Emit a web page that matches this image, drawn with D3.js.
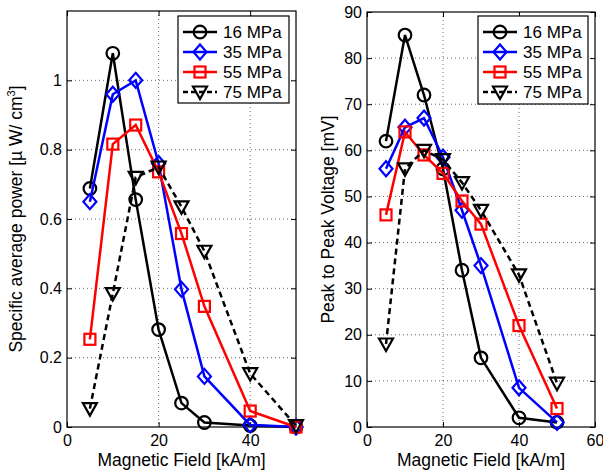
<!DOCTYPE html>
<html><head><meta charset="utf-8">
<script src="https://cdn.jsdelivr.net/npm/d3@7"></script>
<style>
body{margin:0;background:#fff;}
svg{font-family:"Liberation Sans",Arial,sans-serif;}
</style></head>
<body><svg id="c" width="603" height="473"></svg>
<script>
const fields = [5, 10, 15, 20, 25, 30, 40, 50];
const seriesNames = ["16 MPa", "35 MPa", "55 MPa", "75 MPa"];
const power16 = [0.688, 1.078, 0.656, 0.281, 0.069, 0.013, 0.004, 0.0];
const power35 = [0.65, 0.96, 1.0, 0.76, 0.397, 0.146, 0.006, 0.0];
const power55 = [0.253, 0.816, 0.871, 0.736, 0.558, 0.348, 0.046, 0.0];
const power75 = [0.053, 0.385, 0.72, 0.75, 0.635, 0.507, 0.154, 0.004];
const volt16 = [62, 85, 72, 56, 34, 15, 2, 1];
const volt35 = [56, 65, 67, 58.5, 47, 35, 8.5, 1];
const volt55 = [46, 64, 59, 55, 49, 44, 22, 4];
const volt75 = [18, 56, 60, 58, 53, 47, 33, 9.5];
const leftYTicks = [0, 0.2, 0.4, 0.6, 0.8, 1];
const leftXTicks = [0, 20, 40];
const rightYTicks = [0, 10, 20, 30, 40, 50, 60, 70, 80, 90];
const rightXTicks = [0, 20, 40, 60];

const styles = [
  {color:"#000", marker:"circle", dash:null},
  {color:"#0000ff", marker:"diamond", dash:null},
  {color:"#ff0000", marker:"square", dash:null},
  {color:"#000", marker:"tri", dash:"6,4"}
];

const svg = d3.select("#c");

function marker(g, type, x, y, color){
  if(type==="circle"){
    g.append("circle").attr("cx",x).attr("cy",y).attr("r",6.3)
      .attr("fill","none").attr("stroke",color).attr("stroke-width",2.2);
  } else if(type==="diamond"){
    g.append("path").attr("d",`M${x},${y-7.5}L${x+6.5},${y}L${x},${y+7.5}L${x-6.5},${y}Z`)
      .attr("fill","none").attr("stroke",color).attr("stroke-width",2.2);
  } else if(type==="square"){
    g.append("rect").attr("x",x-5.5).attr("y",y-5.5).attr("width",11).attr("height",11)
      .attr("fill","none").attr("stroke",color).attr("stroke-width",2.2);
  } else {
    g.append("path").attr("d",`M${x-7},${y-5.5}L${x+7},${y-5.5}L${x},${y+7}Z`)
      .attr("fill","none").attr("stroke",color).attr("stroke-width",2.2).attr("stroke-linejoin","miter");
  }
}

function panel(opts){
  const {x0,x1,y0,y1,xDom,yDom,xTicks,yTicks,yFmt,data,ylabel,legend} = opts;
  const x = d3.scaleLinear().domain(xDom).range([x0,x1]);
  const y = d3.scaleLinear().domain(yDom).range([y1,y0]);
  const g = svg.append("g");
  // grid
  xTicks.forEach(t=>{ if(t>xDom[0] && t<xDom[1]) g.append("line").attr("x1",x(t)).attr("x2",x(t)).attr("y1",y0).attr("y2",y1)
    .attr("stroke","#444").attr("stroke-width",0.8).attr("stroke-dasharray","1,3");});
  yTicks.forEach(t=>{ if(t>yDom[0] && t<yDom[1]) g.append("line").attr("x1",x0).attr("x2",x1).attr("y1",y(t)).attr("y2",y(t))
    .attr("stroke","#444").attr("stroke-width",0.8).attr("stroke-dasharray","1,3");});
  // axes
  const ax = g.append("g").attr("transform",`translate(0,${y1})`).call(d3.axisBottom(x).tickValues(xTicks).tickSizeInner(-5).tickSizeOuter(0).tickPadding(8));
  const axT = g.append("g").attr("transform",`translate(0,${y0})`).call(d3.axisTop(x).tickValues(xTicks).tickSizeInner(-5).tickSizeOuter(0).tickFormat(""));
  const ay = g.append("g").attr("transform",`translate(${x0},0)`).call(d3.axisLeft(y).tickValues(yTicks).tickFormat(yFmt).tickSizeInner(-5).tickSizeOuter(0).tickPadding(5));
  const ayR = g.append("g").attr("transform",`translate(${x1},0)`).call(d3.axisRight(y).tickValues(yTicks).tickSizeInner(-5).tickSizeOuter(0).tickFormat(""));
  [ax,axT,ay,ayR].forEach(a=>{a.select(".domain").remove(); a.selectAll("line").attr("stroke","#000").attr("stroke-width",1);
    a.selectAll("text").attr("font-size",16).attr("fill","#000").attr("font-family","Liberation Sans, Arial, sans-serif");});
  g.append("rect").attr("x",x0).attr("y",y0).attr("width",x1-x0).attr("height",y1-y0)
    .attr("fill","none").attr("stroke","#000").attr("stroke-width",1.2);
  // data
  data.forEach((vals,i)=>{
    const st = styles[i];
    const line = d3.line().x((d,j)=>x(fields[j])).y(d=>y(d));
    g.append("path").attr("d",line(vals)).attr("fill","none").attr("stroke",st.color)
      .attr("stroke-width",2.5).attr("stroke-dasharray",st.dash);
    vals.forEach((v,j)=>marker(g,st.marker,x(fields[j]),y(v),st.color));
  });
  // labels
  g.append("text").attr("x",(x0+x1)/2).attr("y",466).attr("text-anchor","middle").attr("font-size",17.5).text("Magnetic Field [kA/m]");
  const yl = g.append("text").attr("transform",`translate(${opts.ylx},${(y0+y1)/2}) rotate(-90)`).attr("text-anchor","middle").attr("font-size",17.5);
  ylabel(yl);
  // legend
  const lg = g.append("g");
  lg.append("rect").attr("x",legend.x).attr("y",legend.y).attr("width",legend.w).attr("height",legend.h)
    .attr("fill","#fff").attr("stroke","#000").attr("stroke-width",1.2);
  seriesNames.forEach((n,i)=>{
    const cy = legend.y + 16 + i*20;
    const st = styles[i];
    lg.append("line").attr("x1",legend.x+5).attr("x2",legend.x+39).attr("y1",cy).attr("y2",cy)
      .attr("stroke",st.color).attr("stroke-width",2.5).attr("stroke-dasharray",st.dash ? "5,3" : null);
    marker(lg,st.marker,legend.x+22,cy,st.color);
    lg.append("text").attr("x",legend.x+45).attr("y",cy+6).attr("font-size",17).text(n);
  });
}

panel({x0:67,x1:296,y0:11,y1:427,xDom:[0,50],yDom:[0,1.2],xTicks:leftXTicks,yTicks:leftYTicks,
  yFmt:d=>d===0||d===1?String(d):d3.format(".1f")(d),
  data:[power16,power35,power55,power75], ylx:22,
  ylabel:t=>{t.append("tspan").text("Specific average power [\u00b5 W/ cm");t.append("tspan").attr("font-size",11).attr("dy",-7).text("3");t.append("tspan").attr("dy",7).text("]");},
  legend:{x:178,y:16,w:111,h:87}});
panel({x0:367,x1:595,y0:12,y1:427,xDom:[0,60],yDom:[0,90],xTicks:rightXTicks,yTicks:rightYTicks,
  yFmt:d=>String(d),
  data:[volt16,volt35,volt55,volt75], ylx:334,
  ylabel:t=>t.text("Peak to Peak Voltage [mV]"),
  legend:{x:478,y:16,w:110,h:88}});
</script></body></html>
